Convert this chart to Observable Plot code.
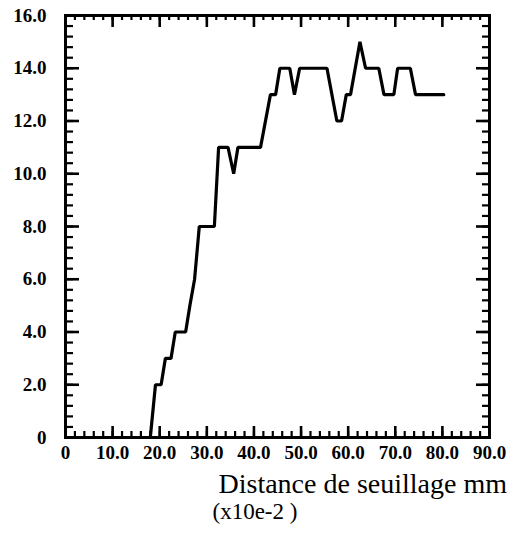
<!DOCTYPE html>
<html>
<head>
<meta charset="utf-8">
<script src="https://cdn.jsdelivr.net/npm/d3@7"></script>
<script src="https://cdn.jsdelivr.net/npm/@observablehq/plot@0.6"></script>
<style>
  html, body { margin: 0; padding: 0; background: #fff; }
  #chart svg { display: block; }
</style>
</head>
<body>
<div id="chart"></div>
<script>
// Threshold distance (x10e-2 mm) and measured value
const distance = [18.0, 19.1, 20.3, 21.2, 22.4, 23.3, 25.5, 26.4, 27.4, 28.4, 31.6, 32.5, 34.5, 35.7, 36.6, 41.4,
                  43.5, 44.6, 45.5, 47.6, 48.6, 49.7, 55.5, 57.6, 58.6, 59.6, 60.5, 62.5, 63.7, 66.5, 67.6,
                  69.7, 70.5, 73.2, 74.3, 80.3];
const value    = [0, 2, 2, 3, 3, 4, 4, 5, 6, 8, 8, 11, 11, 10, 11, 11,
                  13, 13, 14, 14, 13, 14, 14, 12, 12, 13, 13, 15, 14, 14, 13,
                  13, 14, 14, 13, 13];

const xTicks = [0, 10, 20, 30, 40, 50, 60, 70, 80, 90];
const xTickLabels = ["0", "10.0", "20.0", "30.0", "40.0", "50.0", "60.0", "70.0", "80.0", "90.0"];
const yTicks = [0, 2, 4, 6, 8, 10, 12, 14, 16];
const yTickLabels = ["0", "2.0", "4.0", "6.0", "8.0", "10.0", "12.0", "14.0", "16.0"];
const xMinorStep = 2;
const yMinorStep = 0.4;

const titleLine1 = "Distance de seuillage mm";
const titleLine2 = "(x10e-2 )";

const data = distance.map((d, i) => ({x: d, y: value[i]}));
const xMinor = d3.range(0, 90 + 1e-9, xMinorStep);
const yMinor = d3.range(0, 16 + 1e-9, yMinorStep).map(v => +v.toFixed(2));

const xFmt = d => xTickLabels[xTicks.indexOf(d)];
const yFmt = d => yTickLabels[yTicks.indexOf(d)];

const SERIF = "Liberation Serif, DejaVu Serif, serif";
const labelFont = {fontFamily: SERIF, fontWeight: "bold", fontSize: 19};

const W = 529, H = 535, ML = 65, MR = 40, MT = 15, MB = 98;
const FW = W - ML - MR, FH = H - MT - MB;
const TICK = "#000";

// inward ticks, drawn as tick marks inset to a short length at each frame edge
const tickBottom = (t, len, sw) => Plot.tickX(t, {x: d => d, insetTop: FH - len, stroke: TICK, strokeWidth: sw});
const tickTop    = (t, len, sw) => Plot.tickX(t, {x: d => d, insetBottom: FH - len, stroke: TICK, strokeWidth: sw});
const tickLeft   = (t, len, sw) => Plot.tickY(t, {y: d => d, insetRight: FW - len, stroke: TICK, strokeWidth: sw});
const tickRight  = (t, len, sw) => Plot.tickY(t, {y: d => d, insetLeft: FW - len, stroke: TICK, strokeWidth: sw});

const chart = Plot.plot({
  width: W,
  height: H,
  marginLeft: ML,
  marginRight: MR,
  marginTop: MT,
  marginBottom: MB,
  style: {background: "#fff", color: "#000", fontFamily: SERIF},
  x: {domain: [0, 90]},
  y: {domain: [0, 16]},
  marks: [
    tickBottom(xMinor, 6, 2.2),
    tickBottom(xTicks, 11, 2.6),
    tickTop(xMinor, 5, 2.2),
    tickTop(xTicks, 12, 2.6),
    tickLeft(yMinor, 8, 2.2),
    tickLeft(yTicks, 14, 2.6),
    tickRight(yMinor, 7, 2.2),
    tickRight(yTicks, 13, 2.6),
    // tick labels
    Plot.axisX(xTicks, {anchor: "bottom", tickSize: 0, tickPadding: 8, tickFormat: xFmt, label: null, ...labelFont}),
    Plot.axisY(yTicks, {anchor: "left", tickSize: 0, tickPadding: 19, tickFormat: yFmt, label: null, ...labelFont}),
    Plot.frame({stroke: "#000", strokeWidth: 3}),
    Plot.line(data, {x: "x", y: "y", stroke: "#000", strokeWidth: 3.2, strokeLinejoin: "miter", curve: "linear"}),
    Plot.text([titleLine1], {frameAnchor: "bottom-left", text: d => d, dx: 153, dy: 55, lineAnchor: "bottom",
      textAnchor: "start", fontFamily: SERIF, fontSize: 28, fill: "#000"}),
    Plot.text([titleLine2], {frameAnchor: "bottom-left", text: d => d, dx: 147, dy: 81, lineAnchor: "bottom",
      textAnchor: "start", fontFamily: SERIF, fontSize: 23, fill: "#000"})
  ]
});
document.getElementById("chart").appendChild(chart);
</script>
</body>
</html>
